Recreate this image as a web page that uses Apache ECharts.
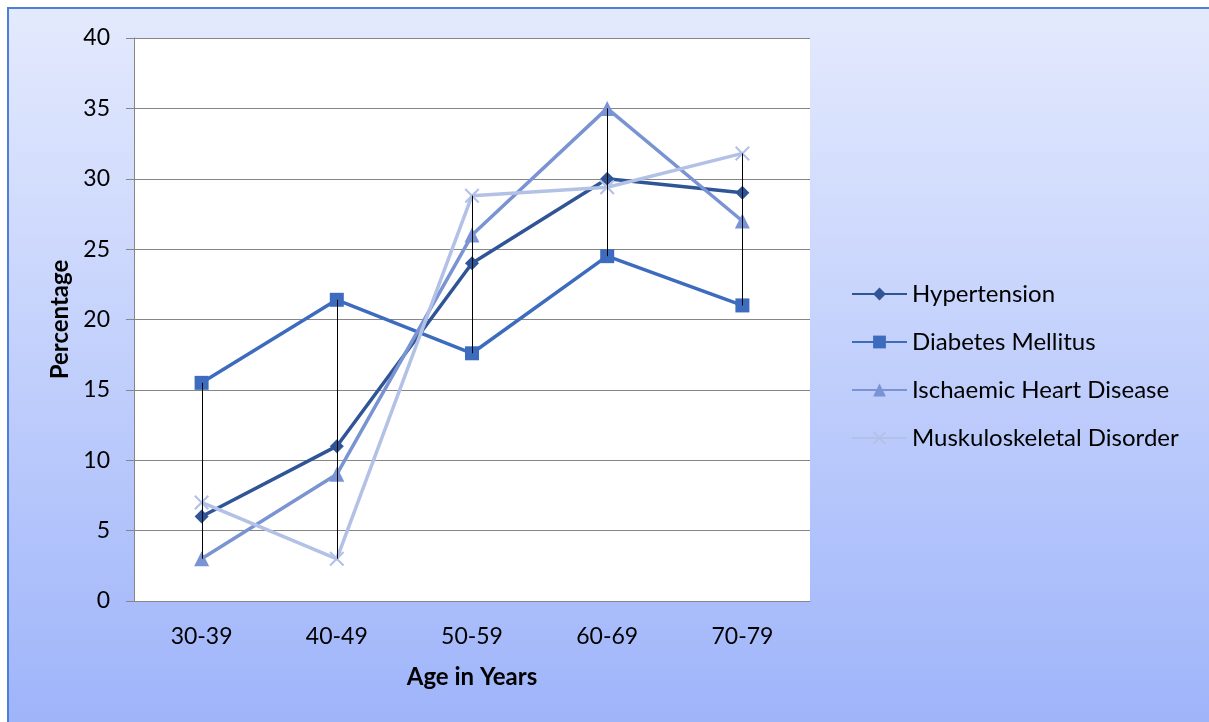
<!DOCTYPE html>
<html>
<head>
<meta charset="utf-8">
<script src="https://cdn.jsdelivr.net/npm/echarts@6/dist/echarts.min.js"></script>
<style>
  html, body { margin: 0; padding: 0; background: #ffffff; }
  #chart { width: 1209px; height: 722px; }
</style>
</head>
<body>
<div id="chart"></div>
<script>
// Age groups and prevalence (%) per condition
const ageGroups = ['30-39', '40-49', '50-59', '60-69', '70-79'];
const hypertension = [6, 11, 24, 30, 29];
const diabetesMellitus = [15.5, 21.4, 17.6, 24.5, 21];
const ischaemicHeartDisease = [3, 9, 26, 35, 27];
const musculoskeletalDisorder = [7, 3, 28.8, 29.4, 31.8];
const yTicks = { min: 0, max: 40, interval: 5 };

const allSeries = [hypertension, diabetesMellitus, ischaemicHeartDisease, musculoskeletalDisorder];
// High-low range per age group
const highLow = ageGroups.map((_, i) => {
  const vals = allSeries.map(s => s[i]);
  return [i, Math.min(...vals), Math.max(...vals)];
});

const FONT = 'Lato, "Open Sans", sans-serif';
const crossPath = 'path://M0,1 L1,0 L10,9 L9,10 Z M9,0 L10,1 L1,10 L0,9 Z';

const chart = echarts.init(document.getElementById('chart'), null, { renderer: 'canvas' });

function lineSeries(name, data, color, symbol, size) {
  return {
    name, type: 'line', data,
    symbol, symbolSize: size,
    lineStyle: { color, width: 3.5 },
    itemStyle: { color },
    z: 3
  };
}

chart.setOption({
  animation: false,
  graphic: [{
    type: 'rect',
    shape: { x: 8, y: 8, width: 1210, height: 720 },
    style: {
      fill: new echarts.graphic.LinearGradient(0, 0, 0, 1, [
        { offset: 0, color: '#E4EAFD' },
        { offset: 1, color: '#9EB4FA' }
      ]),
      stroke: '#4D7FD6',
      lineWidth: 2
    },
    z: -10
  }, {
    type: 'rect',
    shape: { x: 134, y: 38, width: 676, height: 563 },
    style: { fill: '#ffffff' },
    z: -9
  }],
  grid: { left: 134, top: 38, right: 399, bottom: 121, containLabel: false },
  legend: {
    orient: 'vertical',
    left: 846, top: 277,
    itemWidth: 55, itemHeight: 16, itemGap: 24,
    textStyle: { fontFamily: FONT, fontSize: 24, lineHeight: 24, color: '#000', padding: [0, 0, 0, 0] },
    data: ['Hypertension', 'Diabetes Mellitus', 'Ischaemic Heart Disease', 'Muskuloskeletal Disorder']
  },
  xAxis: {
    type: 'category',
    data: ageGroups,
    boundaryGap: true,
    name: 'Age in Years',
    nameLocation: 'middle',
    nameGap: 64,
    nameTextStyle: { fontFamily: FONT, fontSize: 24, fontWeight: 'bold', color: '#000' },
    axisLine: { lineStyle: { color: '#868686', width: 1 } },
    axisTick: { show: false },
    axisLabel: { fontFamily: FONT, fontSize: 23, color: '#000', margin: 24 }
  },
  yAxis: {
    type: 'value',
    min: yTicks.min, max: yTicks.max, interval: yTicks.interval,
    name: 'Percentage',
    nameLocation: 'middle',
    nameGap: 62,
    nameTextStyle: { fontFamily: FONT, fontSize: 24, fontWeight: 'bold', color: '#000' },
    axisLine: { show: true, lineStyle: { color: '#868686', width: 1 } },
    axisTick: { show: true, length: 8, lineStyle: { color: '#868686' } },
    axisLabel: { fontFamily: FONT, fontSize: 23, color: '#000', margin: 24 },
    splitLine: { lineStyle: { color: '#868686', width: 1 } }
  },
  series: [
    {
      name: 'highLow',
      type: 'custom',
      data: highLow,
      z: 4,
      silent: true,
      renderItem: (params, api) => {
        const lo = api.coord([api.value(0), api.value(1)]);
        const hi = api.coord([api.value(0), api.value(2)]);
        return {
          type: 'line',
          shape: { x1: Math.round(lo[0]) + 0.5, y1: lo[1], x2: Math.round(hi[0]) + 0.5, y2: hi[1] },
          style: { stroke: '#000', lineWidth: 1 }
        };
      }
    },
    lineSeries('Hypertension', hypertension, '#2F5597', 'diamond', 14),
    lineSeries('Diabetes Mellitus', diabetesMellitus, '#3D6CBE', 'rect', 14),
    lineSeries('Ischaemic Heart Disease', ischaemicHeartDisease, '#7A94D3', 'triangle', 15),
    lineSeries('Muskuloskeletal Disorder', musculoskeletalDisorder, '#B3C1E6', crossPath, 15)
  ]
});
</script>
</body>
</html>
